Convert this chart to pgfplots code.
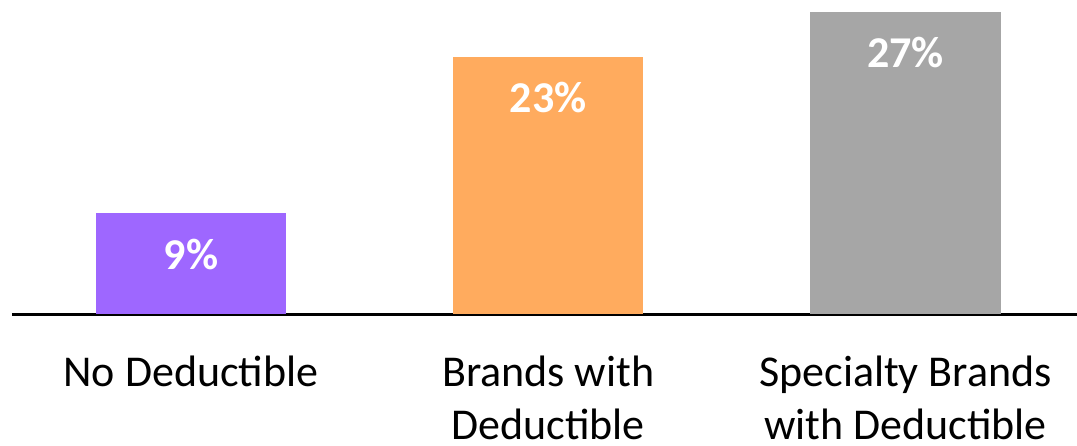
\documentclass[border=0pt]{standalone}
\usepackage{pgfplots}
\pgfplotsset{compat=1.18}
\usepackage{fontspec}
\setmainfont{Carlito}
\definecolor{cpurple}{HTML}{9E67FF}
\definecolor{corange}{HTML}{FFAB5E}
\definecolor{cgray}{HTML}{A6A6A6}
\begin{document}
\begin{tikzpicture}
\path[use as bounding box] (0,0) rectangle (1077pt,445pt);
\begin{axis}[
  at={(12pt,131pt)}, anchor=south west,
  scale only axis, width=1065pt, height=302pt,
  xmin=-0.501, xmax=2.48, ymin=0, ymax=27,
  axis y line=none, axis x line=bottom,
  x axis line style={line width=3pt, -},
  ytick=\empty,
  xtick={0,1,2}, major tick length=0pt,
  xticklabels={No Deductible, {Brands with\\Deductible}, {Specialty Brands\\with Deductible}},
  xticklabel style={align=center, anchor=north, font=\fontsize{44}{53}\selectfont, yshift=-38pt},
  ybar, bar width=190pt, bar shift=0pt,
  /pgf/number format/assume math mode=true,
  nodes near coords={\pgfmathprintnumber{\pgfplotspointmeta}\%},
  every node near coord/.append style={anchor=center, yshift=-41pt, text=white, font=\fontsize{44}{53}\selectfont\bfseries},
  clip=false,
]
\addplot[fill=cpurple, draw=none] coordinates {(0,9)};
\addplot[fill=corange, draw=none] coordinates {(1,23)};
\addplot[fill=cgray, draw=none] coordinates {(2,27)};
\end{axis}
\end{tikzpicture}
\end{document}
